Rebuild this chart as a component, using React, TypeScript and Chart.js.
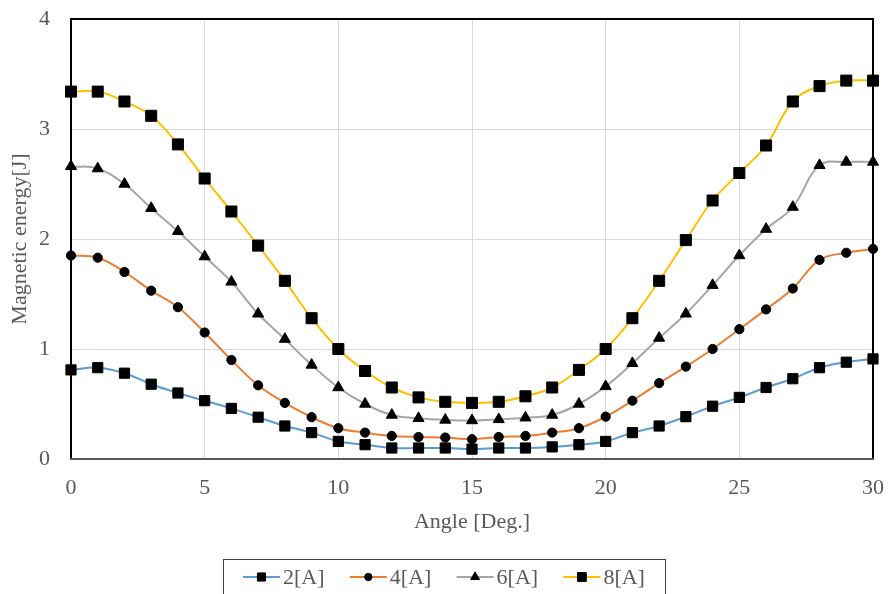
import React, { useEffect, useRef } from "react";
import { Chart, registerables } from "chart.js";
import { drawPoint } from "chart.js/helpers";

Chart.register(...registerables);

const angles = [0, 1, 2, 3, 4, 5, 6, 7, 8, 9, 10, 11, 12, 13, 14, 15, 16, 17, 18, 19, 20, 21, 22, 23, 24, 25, 26, 27, 28, 29, 30];
const seriesLabels = ["2[A]", "4[A]", "6[A]", "8[A]"];
const energy2A = [0.81, 0.83, 0.78, 0.68, 0.6, 0.53, 0.46, 0.38, 0.3, 0.24, 0.16, 0.13, 0.1, 0.1, 0.1, 0.09, 0.1, 0.1, 0.11, 0.13, 0.16, 0.24, 0.3, 0.385, 0.48, 0.56, 0.65, 0.73, 0.83, 0.88, 0.91];
const energy4A = [1.85, 1.83, 1.7, 1.53, 1.38, 1.15, 0.9, 0.67, 0.51, 0.38, 0.28, 0.24, 0.21, 0.2, 0.195, 0.18, 0.2, 0.21, 0.24, 0.28, 0.385, 0.53, 0.69, 0.84, 1.0, 1.18, 1.36, 1.55, 1.81, 1.875, 1.91];
const energy6A = [2.66, 2.64, 2.5, 2.28, 2.07, 1.84, 1.61, 1.32, 1.09, 0.855, 0.65, 0.5, 0.4, 0.37, 0.355, 0.35, 0.36, 0.375, 0.4, 0.5, 0.66, 0.87, 1.1, 1.32, 1.58, 1.85, 2.09, 2.29, 2.67, 2.7, 2.7];
const energy8A = [3.34, 3.34, 3.25, 3.12, 2.86, 2.55, 2.25, 1.94, 1.62, 1.28, 1.0, 0.8, 0.65, 0.56, 0.52, 0.51, 0.52, 0.57, 0.65, 0.81, 1.0, 1.28, 1.62, 1.99, 2.35, 2.6, 2.85, 3.25, 3.39, 3.44, 3.44];

const FONT = "'Liberation Serif', 'Times New Roman', serif";
const TEXT = "#595959";
const FS = 22;

const frameAndLegend = {
  id: "frameAndLegend",
  beforeDatasetsDraw(chart: any) {
    const { ctx, chartArea: a } = chart;
    ctx.save();
    ctx.lineWidth = 2;
    ctx.strokeStyle = "#000000";
    ctx.beginPath();
    ctx.moveTo(a.left, a.bottom);
    ctx.lineTo(a.left, a.top);
    ctx.lineTo(a.right, a.top);
    ctx.lineTo(a.right, a.bottom);
    ctx.stroke();
    ctx.strokeStyle = "#595959";
    ctx.beginPath();
    ctx.moveTo(a.left - 1, a.bottom);
    ctx.lineTo(a.right + 1, a.bottom);
    ctx.stroke();
    ctx.restore();
  },
  afterDraw(chart: any) {
    const { ctx } = chart;
    ctx.save();
    ctx.strokeStyle = "#404040";
    ctx.lineWidth = 1;
    ctx.strokeRect(223.5, 559.5, 442, 60);
    const startX = 243;
    const pitch = 106.8;
    const cy = 577;
    ctx.font = FS + "px " + FONT;
    ctx.textBaseline = "middle";
    ctx.textAlign = "left";
    chart.data.datasets.forEach((ds: any, i: number) => {
      const x0 = startX + i * pitch;
      ctx.strokeStyle = ds.borderColor;
      ctx.lineWidth = 2;
      ctx.beginPath();
      ctx.moveTo(x0, cy);
      ctx.lineTo(x0 + 37, cy);
      ctx.stroke();
      ctx.fillStyle = "#000";
      ctx.strokeStyle = "#000";
      ctx.lineWidth = 1;
      drawPoint(ctx, { pointStyle: ds.pointStyle, radius: ds.pointRadius * 0.8, rotation: 0, borderWidth: 1 }, x0 + 18.5, cy);
      ctx.fillStyle = TEXT;
      ctx.fillText(ds.label, x0 + 40, cy + 1);
    });
    ctx.restore();
  },
};

export default function App() {
  const ref = useRef<HTMLCanvasElement>(null);
  useEffect(() => {
    document.body.style.margin = "0";
    const mk = (vals: number[]) => angles.map((a, i) => ({ x: a, y: vals[i] }));
    const colors = ["#5B9BD5", "#ED7D31", "#A5A5A5", "#FFC000"];
    const styles = ["rect", "circle", "triangle", "rect"];
    const radii = [7.2, 4.6, 6.4, 7.8];
    const all = [energy2A, energy4A, energy6A, energy8A];
    const chart = new Chart(ref.current!, {
      type: "line",
      data: {
        datasets: all.map((vals, i) => ({
          label: seriesLabels[i],
          data: mk(vals),
          borderColor: colors[i],
          backgroundColor: "#000",
          borderWidth: 2,
          pointStyle: styles[i],
          pointRadius: radii[i],
          pointBackgroundColor: "#000",
          pointBorderColor: "#000",
          pointBorderWidth: 1,
          tension: 0.4,
          clip: false,
        })),
      },
      options: {
        responsive: false,
        animation: false,
        devicePixelRatio: 1,
        layout: { padding: { left: 0, right: 16, top: 19, bottom: 0 } },
        plugins: { legend: { display: false }, tooltip: { enabled: false } },
        scales: {
          x: {
            type: "linear",
            min: 0,
            max: 30,
            afterFit: (s: any) => { s.height = 135; s.paddingLeft = 0; s.paddingRight = 0; },
            grid: { color: "#d9d9d9", lineWidth: 1, drawTicks: false },
            border: { display: false },
            ticks: { stepSize: 5, padding: 16, color: TEXT, font: { family: FONT, size: FS } },
            title: { display: true, text: "Angle [Deg.]", color: TEXT, font: { family: FONT, size: FS }, padding: { top: 0, bottom: 59 } },
          },
          y: {
            min: 0,
            max: 4,
            afterFit: (s: any) => { s.width = 71; s.paddingTop = 0; s.paddingBottom = 0; },
            grid: { color: "#d9d9d9", lineWidth: 1, drawTicks: false },
            border: { display: false },
            ticks: { stepSize: 1, padding: 21, color: TEXT, font: { family: FONT, size: FS } },
            title: { display: true, text: "Magnetic energy[J]", color: TEXT, font: { family: FONT, size: FS }, padding: { top: 7, bottom: 0 } },
          },
        },
      },
      plugins: [frameAndLegend],
    } as any);
    return () => chart.destroy();
  }, []);
  return (
    <div style={{ position: "absolute", left: 0, top: 0, width: 889, height: 594 }}>
      <canvas ref={ref} width={889} height={594} style={{ display: "block" }} />
    </div>
  );
}
